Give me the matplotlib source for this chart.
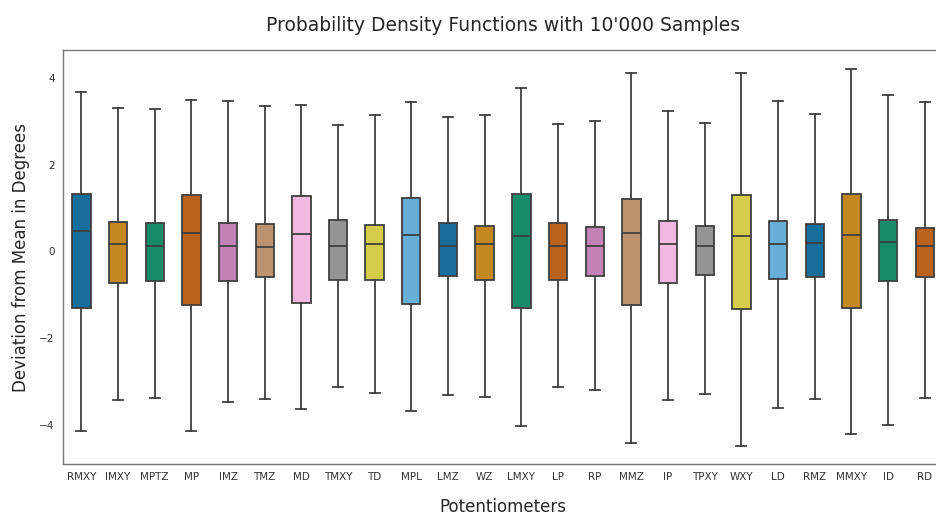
import matplotlib
matplotlib.use("Agg")
import matplotlib.pyplot as plt
import seaborn as sns

names = ["RMXY", "IMXY", "MPTZ", "MP", "IMZ", "TMZ", "MD", "TMXY", "TD", "MPL", "LMZ", "WZ",
         "LMXY", "LP", "RP", "MMZ", "IP", "TPXY", "WXY", "LD", "RMZ", "MMXY", "ID", "RD"]
# whisker low, q1, median, q3, whisker high (degrees)
whislo = [-4.14, -3.44, -3.39, -4.15, -3.48, -3.40, -3.64, -3.13, -3.27, -3.68, -3.31, -3.36,
          -4.03, -3.13, -3.20, -4.42, -3.44, -3.29, -4.49, -3.61, -3.40, -4.21, -4.01, -3.38]
q1 = [-1.31, -0.72, -0.68, -1.24, -0.68, -0.59, -1.20, -0.67, -0.66, -1.21, -0.58, -0.65,
      -1.31, -0.67, -0.57, -1.24, -0.72, -0.55, -1.33, -0.64, -0.60, -1.31, -0.68, -0.59]
med = [0.46, 0.16, 0.12, 0.43, 0.12, 0.10, 0.39, 0.12, 0.16, 0.37, 0.12, 0.16,
       0.35, 0.12, 0.12, 0.42, 0.18, 0.13, 0.35, 0.17, 0.20, 0.37, 0.21, 0.12]
q3 = [1.32, 0.68, 0.65, 1.30, 0.65, 0.63, 1.27, 0.73, 0.60, 1.24, 0.65, 0.59,
      1.32, 0.65, 0.57, 1.21, 0.70, 0.59, 1.31, 0.69, 0.63, 1.32, 0.73, 0.55]
whishi = [3.69, 3.32, 3.28, 3.50, 3.47, 3.35, 3.37, 2.92, 3.14, 3.44, 3.11, 3.14,
          3.78, 2.94, 3.02, 4.12, 3.24, 2.96, 4.13, 3.48, 3.18, 4.22, 3.62, 3.45]

stats = []
for i in range(len(names)):
    stats.append(dict(label=names[i], whislo=whislo[i], q1=q1[i], med=med[i], q3=q3[i],
                      whishi=whishi[i], fliers=[]))

pal = sns.color_palette("colorblind", 10)
colors = [sns.desaturate(pal[i % 10], 0.75) for i in range(len(names))]

fig = plt.figure(figsize=(9.36, 5.14), dpi=100)
ax = fig.add_axes([63/936, 1 - 464/514, 880/936, 414/514])

line = "#3f3f3f"
b = ax.bxp(stats, positions=range(len(names)), widths=0.5, patch_artist=True,
           showfliers=False, capwidths=0.28,
           boxprops=dict(edgecolor=line, linewidth=1.3),
           medianprops=dict(color=line, linewidth=1.3),
           whiskerprops=dict(color=line, linewidth=1.3),
           capprops=dict(color=line, linewidth=1.3))
for patch, c in zip(b["boxes"], colors):
    patch.set_facecolor(c)

ax.set_xlim(-0.5, len(names) - 0.5)
ax.set_ylim(-4.91, 4.65)
ax.set_yticks([-4, -2, 0, 2, 4])
ax.set_yticklabels(["\u22124", "\u22122", "0", "2", "4"])
ax.tick_params(length=0, labelsize=7.5, labelcolor="#333333", pad=6)
for s in ax.spines.values():
    s.set_color("#777777")
    s.set_linewidth(1.0)

ax.set_xlabel("Potentiometers", fontsize=12, color="#262626", labelpad=11)
ax.set_ylabel("Deviation from Mean in Degrees", fontsize=12, color="#262626", labelpad=7)
ax.set_title("Probability Density Functions with 10'000 Samples", fontsize=13.5, color="#262626", pad=14)

fig.savefig("out.png", dpi=100)
